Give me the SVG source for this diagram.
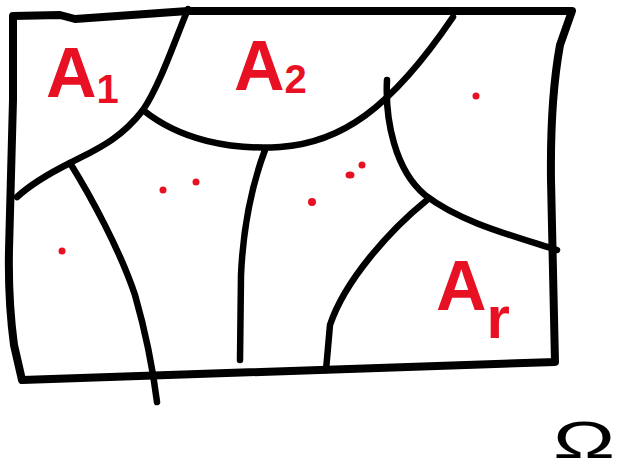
<svg xmlns="http://www.w3.org/2000/svg" width="634" height="474" viewBox="0 0 634 474">
<style>
.ink{fill:none;stroke:#000;stroke-linecap:round;stroke-linejoin:round}
.outer{stroke-width:8}
.cut{stroke-width:6.5}
.lbl{fill:#e81123;font-family:"Liberation Sans","DejaVu Sans",sans-serif;font-weight:bold}
.dot{fill:#e81123}
</style>
<rect width="634" height="474" fill="#fff"/>
<g id="outer-boundary">
<path class="ink outer" d="M22,380 L14,345 Q8,300 9,250 L13,100 L13,16 L60,15 L75,19 L188,11 L572,11 L560,45 Q550,100 551,180 L555,362 Z"/>
</g>
<g id="connectors">
<path class="ink cut" d="M188,9 C175,40 160,85 143,110 C120,140 95,150 70,163 C50,173 30,185 17,197"/>
<path class="ink cut" d="M143,110 C180,140 230,150 280,147 C340,143 390,110 453,17"/>
<path class="ink cut" d="M70,163 C90,195 120,250 135,295 C145,330 153,370 157,402"/>
<path class="ink cut" d="M265,150 C250,190 243,230 241,275 L240,360"/>
<path class="ink cut" d="M387,80 C385,120 395,170 425,195 C460,222 510,235 557,250"/>
<path class="ink cut" d="M427,200 C390,230 345,280 330,325 L326,370"/>
</g>
<g id="points">
<circle class="dot" cx="163" cy="190" r="3.5"/>
<circle class="dot" cx="196" cy="182" r="3.5"/>
<circle class="dot" cx="62" cy="251" r="3.5"/>
<circle class="dot" cx="312" cy="202" r="4"/>
<ellipse class="dot" cx="350" cy="175" rx="4.5" ry="3.5"/>
<circle class="dot" cx="362" cy="165" r="3.5"/>
<circle class="dot" cx="476" cy="96" r="3.5"/>
</g>
<g id="label-A1"><text class="lbl" x="46" y="97" font-size="70">A<tspan font-size="40" dy="6">1</tspan></text></g>
<g id="label-A2"><text class="lbl" x="234" y="90" font-size="70">A<tspan font-size="40" dy="3">2</tspan></text></g>
<g id="label-Ar"><text class="lbl" x="436" y="310" font-size="70">A<tspan font-size="60" dy="28">r</tspan></text></g>
<g id="label-omega"><text x="0" y="0" font-size="52" font-family="Liberation Sans, DejaVu Sans, sans-serif" fill="#000" transform="translate(553,458) scale(1.6,1)">Ω</text></g>
</svg>
